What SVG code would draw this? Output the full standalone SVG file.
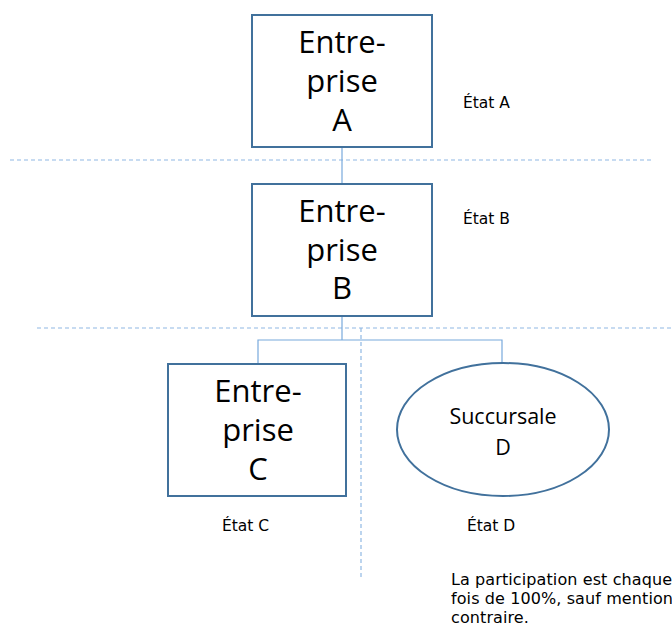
<svg xmlns="http://www.w3.org/2000/svg" width="672" height="635" viewBox="0 0 672 635">
  <style>
    text { font-family: "Open Sans", Lato, sans-serif; fill: #000000; font-variant-ligatures: none; }
    .box { fill: #ffffff; stroke: #41719c; stroke-width: 2; }
    .conn { fill: none; stroke: #78a9dc; stroke-width: 1.2; }
    .sep { fill: none; stroke: #8fb8e3; stroke-width: 1.2; stroke-dasharray: 4 3; }
    .big { font-size: 31px; text-anchor: middle; }
    .mid { font-size: 21.5px; text-anchor: middle; }
    .lbl { font-family: "DejaVu Sans", sans-serif; font-size: 15.5px; }
    .note { font-family: "DejaVu Sans", sans-serif; font-size: 16px; letter-spacing: 0.1px; }
  </style>
  <rect width="672" height="635" fill="#ffffff"/>

  <!-- state boundaries -->
  <g id="separators">
    <line class="sep" x1="10" y1="160" x2="652" y2="160"/>
    <line class="sep" x1="37" y1="328" x2="672" y2="328"/>
    <line class="sep" x1="361" y1="328" x2="361" y2="580"/>
  </g>

  <!-- ownership links -->
  <g id="connectors">
    <line class="conn" x1="342" y1="147" x2="342" y2="184"/>
    <polyline class="conn" points="342,316 342,340"/>
    <polyline class="conn" points="258,364 258,340 502,340 502,363"/>
  </g>

  <g id="entreprise-a">
    <rect class="box" x="252" y="15" width="180" height="132"/>
    <text class="big" x="342" y="53">Entre-</text>
    <text class="big" x="342" y="92">prise</text>
    <text class="big" x="342" y="131">A</text>
  </g>

  <g id="entreprise-b">
    <rect class="box" x="252" y="184" width="180" height="132"/>
    <text class="big" x="342" y="222">Entre-</text>
    <text class="big" x="342" y="261">prise</text>
    <text class="big" x="342" y="299">B</text>
  </g>

  <g id="entreprise-c">
    <rect class="box" x="168" y="364" width="178" height="132"/>
    <text class="big" x="258" y="402">Entre-</text>
    <text class="big" x="258" y="441">prise</text>
    <text class="big" x="258" y="480">C</text>
  </g>

  <g id="succursale-d">
    <ellipse class="box" cx="503" cy="429.5" rx="106" ry="66.5"/>
    <text class="mid" x="503" y="424">Succursale</text>
    <text class="mid" x="503" y="455">D</text>
  </g>

  <g id="labels">
    <text class="lbl" x="463" y="108">État A</text>
    <text class="lbl" x="463" y="224">État B</text>
    <text class="lbl" x="222" y="531">État C</text>
    <text class="lbl" x="467" y="531">État D</text>
  </g>

  <g id="note">
    <text class="note" x="451" y="585">La participation est chaque</text>
    <text class="note" x="451" y="604">fois de 100%, sauf mention</text>
    <text class="note" x="451" y="623">contraire.</text>
  </g>
</svg>
